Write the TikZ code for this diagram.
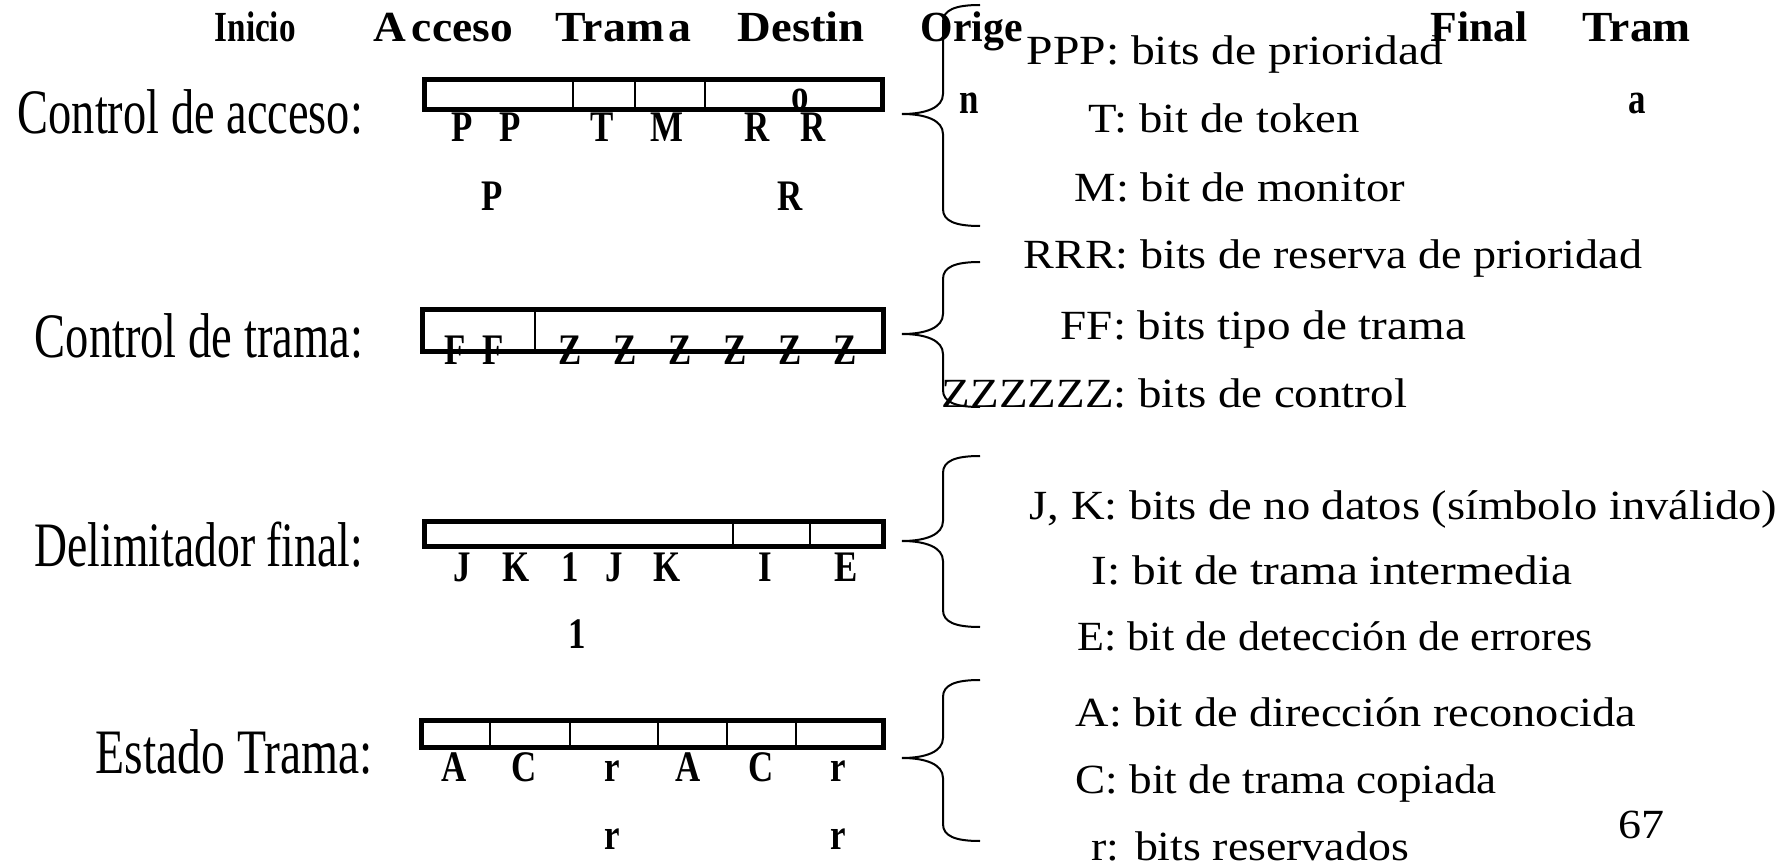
\documentclass[tikz,border=0pt]{standalone}
\usepackage{fontspec}
\setmainfont{Liberation Serif}
\usepackage{graphicx}
\tikzset{
  lbl/.style={anchor=base west, inner sep=0pt, font=\fontsize{18}{20}\selectfont},
  desc/.style={anchor=base west, inner sep=0pt, font=\fontsize{11.8}{13}\selectfont},
  hdr/.style={anchor=base west, inner sep=0pt, font=\fontsize{12.2}{14}\selectfont\bfseries},
  bitc/.style={anchor=base, inner sep=0pt, font=\fontsize{12.4}{14}\selectfont\bfseries},
  framebox/.style={line width=0.05cm},
  sepline/.style={line width=0.027cm},
  brc/.style={line width=0.02cm},
}
\newcommand\fitw[2]{\resizebox{#1cm}{\height}{#2}}
\newcommand\nb[1]{\scalebox{0.8}[1]{#1}}
\newcommand\mybrace[3]{%
  \draw[brc] (980,#1) .. controls (955,#1) and (943,#1+5) .. (943,#1+17)
    -- (943,#2-20) .. controls (943,#2-6) and (925,#2) .. (902,#2)
    .. controls (925,#2) and (943,#2+6) .. (943,#2+20)
    -- (943,#3-17) .. controls (943,#3-5) and (955,#3) .. (980,#3);}
\begin{document}
\begin{tikzpicture}[x=0.01cm, y=-0.01cm]
\useasboundingbox (0,0) rectangle (1787,867);

% header words
\node[hdr] (h1) at (214,42) {\fitw{0.81}{Inicio}};
\node[hdr] (h2) at (373,42) {\fitw{1.39}{A\kern0.12em cceso}};
\node[hdr] (h3) at (555,42) {\fitw{1.36}{Tram\kern0.1em a}};
\node[hdr] (h4) at (737,42) {\fitw{1.27}{Destin}};
\node[hdr] (h5) at (920,42) {\fitw{1.02}{Orige}};
\node[hdr] (h6) at (1430,42) {\fitw{0.97}{Final}};
\node[hdr] (h7) at (1582,42) {\fitw{1.08}{Tram}};
\node[bitc] (h4b) at (800,110) {\nb{o}};
\node[bitc] (h5b) at (969,114) {\nb{n}};
\node[bitc] (h7b) at (1637,114) {\nb{a}};

% left labels
\node[lbl] (l1) at (17,134) {\fitw{3.45}{Control de acceso:}};
\node[lbl] (l2) at (34,357) {\fitw{3.28}{Control de trama:}};
\node[lbl] (l3) at (34,567) {\fitw{3.28}{Delimitador final:}};
\node[lbl] (l4) at (95,773) {\fitw{2.77}{Estado Trama:}};

% box 1 bits
\node[bitc] (a1) at (462,142) {\nb{P}};
\node[bitc] (a2) at (510,142) {\nb{P}};
\node[bitc] (a3) at (602,142) {\nb{T}};
\node[bitc] (a4) at (667,142) {\nb{M}};
\node[bitc] (a5) at (757,142) {\nb{R}};
\node[bitc] (a6) at (813,142) {\nb{R}};
\node[bitc] (a7) at (492,211) {\nb{P}};
\node[bitc] (a8) at (790,211) {\nb{R}};
\draw[framebox] (424.5,79.5) rectangle (882.5,109.5);
\draw[sepline] (573,79.5) -- (573,109.5);
\draw[sepline] (635,79.5) -- (635,109.5);
\draw[sepline] (705,79.5) -- (705,109.5);

% box 2 bits
\node[bitc] (b1) at (455,364) {\nb{F}};
\node[bitc] (b2) at (493,364) {\nb{F}};
\node[bitc] (b3) at (570,364) {\nb{Z}};
\node[bitc] (b4) at (625,364) {\nb{Z}};
\node[bitc] (b5) at (680,364) {\nb{Z}};
\node[bitc] (b6) at (735,364) {\nb{Z}};
\node[bitc] (b7) at (790,364) {\nb{Z}};
\node[bitc] (b8) at (845,364) {\nb{Z}};
\draw[framebox] (422.5,309.5) rectangle (883.5,351.5);
\draw[sepline] (535,309.5) -- (535,351.5);

% box 3 bits
\node[bitc] (c1) at (462,581) {\nb{J}};
\node[bitc] (c2) at (516,581) {\nb{K}};
\node[bitc] (c3) at (570,581) {\nb{1}};
\node[bitc] (c4) at (614,581) {\nb{J}};
\node[bitc] (c5) at (667,581) {\nb{K}};
\node[bitc] (c6) at (765,581) {\nb{I}};
\node[bitc] (c7) at (846,581) {\nb{E}};
\node[bitc] (c8) at (577,648) {\nb{1}};
\draw[framebox] (424.5,521.5) rectangle (883.5,546.5);
\draw[sepline] (733,521.5) -- (733,546.5);
\draw[sepline] (810,521.5) -- (810,546.5);

% box 4 bits
\node[bitc] (d1) at (454,781) {\nb{A}};
\node[bitc] (d2) at (524,781) {\nb{C}};
\node[bitc] (d3) at (612,781) {\nb{r}};
\node[bitc] (d4) at (688,781) {\nb{A}};
\node[bitc] (d5) at (761,781) {\nb{C}};
\node[bitc] (d6) at (838,781) {\nb{r}};
\node[bitc] (d7) at (612,849) {\nb{r}};
\node[bitc] (d8) at (838,849) {\nb{r}};
\draw[framebox] (421.5,720.5) rectangle (883.5,747.5);
\foreach \xx in {490,570,658,727,796}
  \draw[sepline] (\xx,720.5) -- (\xx,747.5);

% braces
\mybrace{5}{114}{226}
\mybrace{262}{334}{407}
\mybrace{456}{541}{627}
\mybrace{680}{758}{841}

% descriptions
\node[desc] (t1) at (1026,65) {\fitw{4.16}{PPP: bits de prioridad}};
\node[desc] (t2) at (1088,133) {\fitw{2.71}{T: bit de token}};
\node[desc] (t3) at (1074,202) {\fitw{3.30}{M: bit de monitor}};
\node[desc] (t4) at (1023,269) {\fitw{6.18}{RRR: bits de reserva de prioridad}};
\node[desc] (t5) at (1060,340) {\fitw{4.05}{FF: bits tipo de trama}};
\node[desc] (t6) at (941,408) {\fitw{4.65}{ZZZZZZ: bits de control}};
\node[desc] (t7) at (1029,519) {\fitw{7.47}{J, K: bits de no datos (símbolo inválido)}};
\node[desc] (t8) at (1091,584) {\fitw{4.80}{I: bit de trama intermedia}};
\node[desc] (t9) at (1077,650) {\fitw{5.15}{E: bit de detección de errores}};
\node[desc] (t10) at (1075,726) {\fitw{5.60}{A: bit de dirección reconocida}};
\node[desc] (t11) at (1075,793) {\fitw{4.21}{C: bit de trama copiada}};
\node[desc] (t12) at (1091,860) {\fitw{3.17}{r: bits reservados}};
\node[desc] (pg) at (1618,838) {\fitw{0.46}{67}};
\end{tikzpicture}
\end{document}
